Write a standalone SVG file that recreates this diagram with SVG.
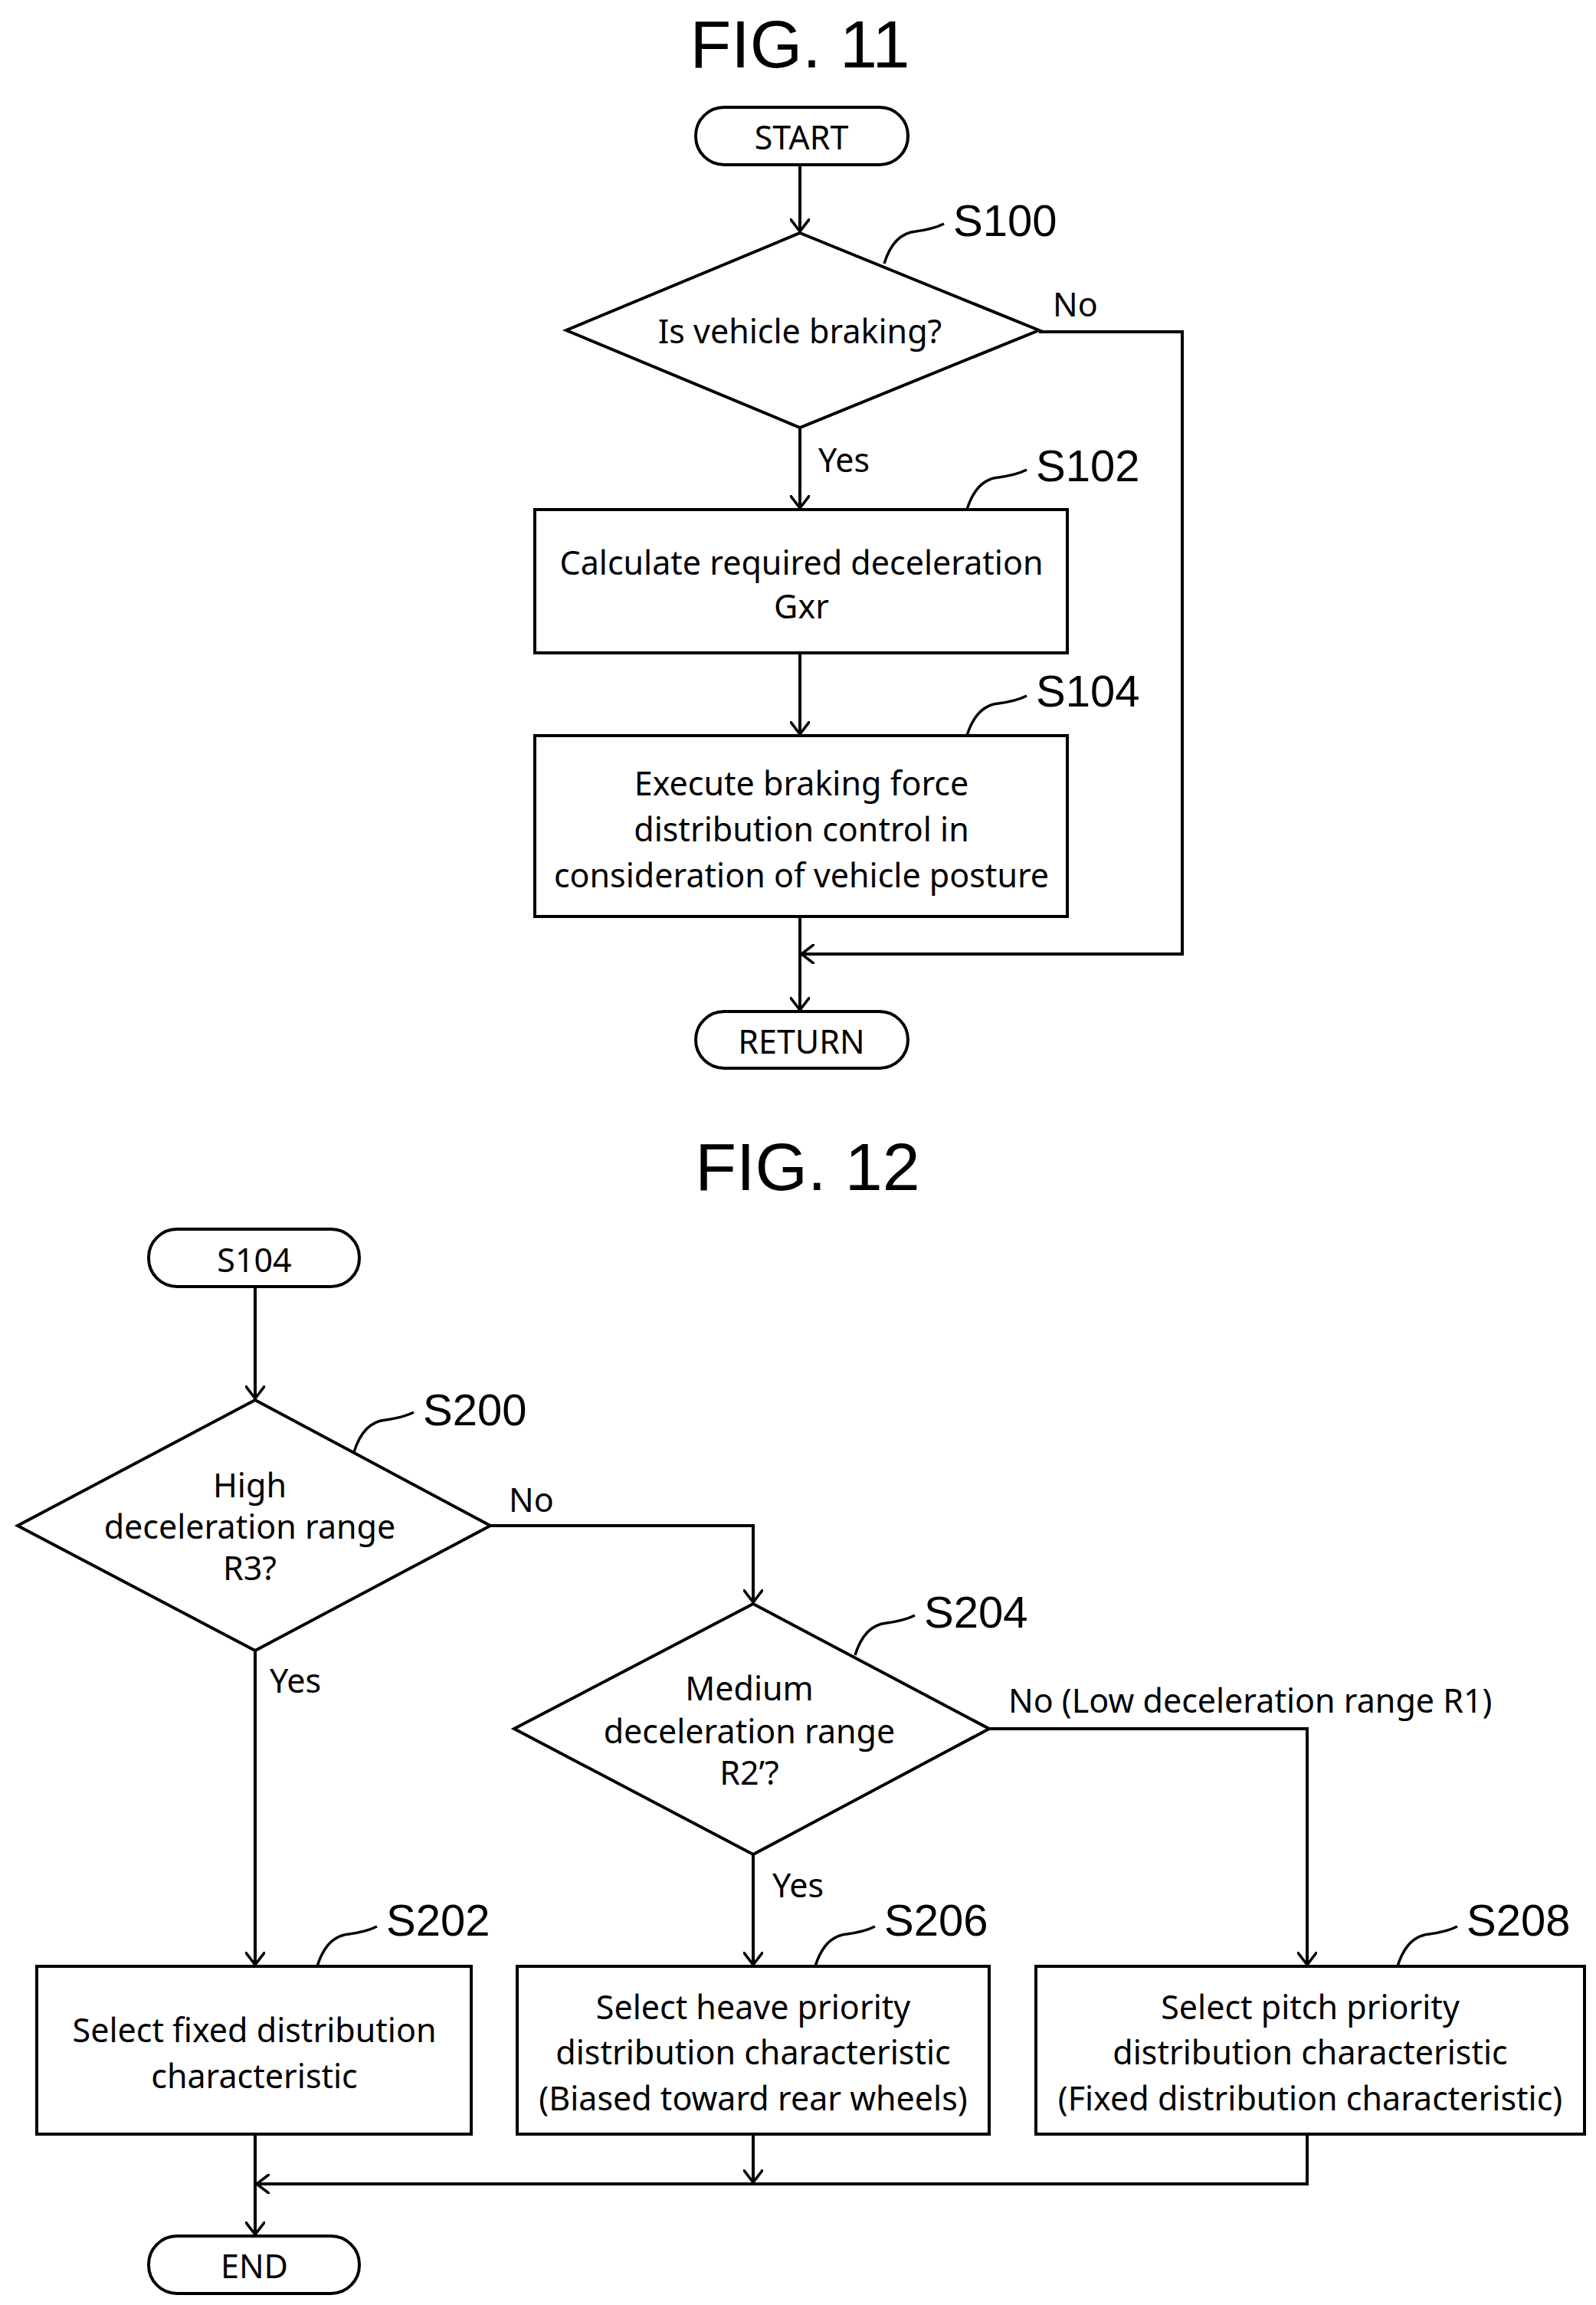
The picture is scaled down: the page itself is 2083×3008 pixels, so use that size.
<svg xmlns="http://www.w3.org/2000/svg" width="2083" height="3008" viewBox="0 0 2083 3008">
<defs>
<marker id="ah" markerWidth="18" markerHeight="26" refX="17" refY="13" orient="auto" markerUnits="userSpaceOnUse">
<path d="M0,0 L17,13 L0,26" fill="none" stroke="#000" stroke-width="3.5"/>
</marker>
<style>
.s{fill:none;stroke:#000;stroke-width:4}
.b{fill:#fff;stroke:#000;stroke-width:4}
.t{font-family:"Noto Sans","Open Sans",sans-serif;font-size:43px;text-anchor:middle;dominant-baseline:central}
.l{font-family:"Liberation Sans",Arial,sans-serif;font-size:58px}
.f{font-family:"Liberation Sans",Arial,sans-serif;font-size:88px;text-anchor:middle}
.y{font-family:"Noto Sans","Open Sans",sans-serif;font-size:43px}
.c{fill:none;stroke:#000;stroke-width:3.5}
</style>
</defs>
<rect width="2083" height="3008" fill="#fff"/>
<text class="f" x="1044" y="88">FIG. 11</text>
<text class="f" x="1054" y="1553">FIG. 12</text>
<g id="connectors">
<path class="s" d="M1044,215 V302" marker-end="url(#ah)"/>
<path class="s" d="M1044,558 V663" marker-end="url(#ah)"/>
<path class="s" d="M1044,852 V958" marker-end="url(#ah)"/>
<path class="s" d="M1044,1196 V1318" marker-end="url(#ah)"/>
<path class="s" d="M1356,433 H1543 V1245 H1046" marker-end="url(#ah)"/>
<path class="s" d="M333,1679 V1825" marker-end="url(#ah)"/>
<path class="s" d="M640,1991 H983 V2091" marker-end="url(#ah)"/>
<path class="s" d="M333,2154 V2564" marker-end="url(#ah)"/>
<path class="s" d="M983,2420 V2564" marker-end="url(#ah)"/>
<path class="s" d="M1291,2256 H1706 V2564" marker-end="url(#ah)"/>
<path class="s" d="M1706,2785 V2850 H335" marker-end="url(#ah)"/>
<path class="s" d="M983,2785 V2848" marker-end="url(#ah)"/>
<path class="s" d="M333,2785 V2916" marker-end="url(#ah)"/>
<text class="y" x="1374" y="413">No</text>
<text class="y" x="1068" y="616">Yes</text>
<text class="y" x="664" y="1973">No</text>
<text class="y" x="352" y="2209">Yes</text>
<text class="y" x="1316" y="2235">No (Low deceleration range R1)</text>
<text class="y" x="1008" y="2476">Yes</text>
</g>
<g id="start"><rect class="b" x="908" y="140" width="277" height="75" rx="37"/><text class="t" x="1046" y="178">START</text></g>
<g id="s100"><path class="b" d="M1044,304 L1356,431 L1044,558 L739,431 Z"/><text class="t" x="1044" y="431">Is vehicle braking?</text>
<path class="c" d="M1154,344 C1162,318 1175,304 1195,302 C1210,300 1220,298 1232,292"/><text class="l" x="1244" y="308">S100</text></g>
<g id="s102"><rect class="b" x="698" y="665" width="695" height="187"/><text class="t" x="1046" y="733">Calculate required deceleration</text><text class="t" x="1046" y="790">Gxr</text>
<path class="c" d="M1262,665 C1270,639 1283,625 1303,623 C1318,621 1328,619 1340,613"/><text class="l" x="1352" y="628">S102</text></g>
<g id="s104"><rect class="b" x="698" y="960" width="695" height="236"/><text class="t" x="1046" y="1021">Execute braking force</text><text class="t" x="1046" y="1081">distribution control in</text><text class="t" x="1046" y="1141">consideration of vehicle posture</text>
<path class="c" d="M1262,960 C1270,934 1283,920 1303,918 C1318,916 1328,914 1340,908"/><text class="l" x="1352" y="922">S104</text></g>
<g id="return"><rect class="b" x="908" y="1320" width="277" height="74" rx="37"/><text class="t" x="1046" y="1358">RETURN</text></g>
<g id="s104t"><rect class="b" x="194" y="1604" width="275" height="75" rx="37"/><text class="t" x="332" y="1643">S104</text></g>
<g id="s200"><path class="b" d="M333,1827 L640,1991 L333,2154 L23,1991 Z"/><text class="t" x="326" y="1937">High</text><text class="t" x="326" y="1991">deceleration range</text><text class="t" x="326" y="2045">R3?</text>
<path class="c" d="M462,1895 C470,1869 483,1855 503,1853 C518,1851 528,1849 540,1843"/><text class="l" x="552" y="1860">S200</text></g>
<g id="s204"><path class="b" d="M983,2093 L1291,2256 L983,2420 L671,2256 Z"/><text class="t" x="978" y="2202">Medium</text><text class="t" x="978" y="2258">deceleration range</text><text class="t" x="978" y="2312">R2’?</text>
<path class="c" d="M1116,2160 C1124,2134 1137,2120 1157,2118 C1172,2116 1182,2114 1194,2108"/><text class="l" x="1206" y="2124">S204</text></g>
<g id="s202"><rect class="b" x="48" y="2566" width="567" height="219"/><text class="t" x="332" y="2648">Select fixed distribution</text><text class="t" x="332" y="2708">characteristic</text>
<path class="c" d="M414,2566 C422,2540 435,2526 455,2524 C470,2522 480,2520 492,2514"/><text class="l" x="504" y="2526">S202</text></g>
<g id="s206"><rect class="b" x="675" y="2566" width="616" height="219"/><text class="t" x="983" y="2618">Select heave priority</text><text class="t" x="983" y="2677">distribution characteristic</text><text class="t" x="983" y="2737">(Biased toward rear wheels)</text>
<path class="c" d="M1064,2566 C1072,2540 1085,2526 1105,2524 C1120,2522 1130,2520 1142,2514"/><text class="l" x="1154" y="2526">S206</text></g>
<g id="s208"><rect class="b" x="1352" y="2566" width="716" height="219"/><text class="t" x="1710" y="2618">Select pitch priority</text><text class="t" x="1710" y="2677">distribution characteristic</text><text class="t" x="1710" y="2737">(Fixed distribution characteristic)</text>
<path class="c" d="M1824,2566 C1832,2540 1845,2526 1865,2524 C1880,2522 1890,2520 1902,2514"/><text class="l" x="1914" y="2526">S208</text></g>
<g id="end"><rect class="b" x="194" y="2918" width="275" height="75" rx="37"/><text class="t" x="332" y="2956">END</text></g>
</svg>
